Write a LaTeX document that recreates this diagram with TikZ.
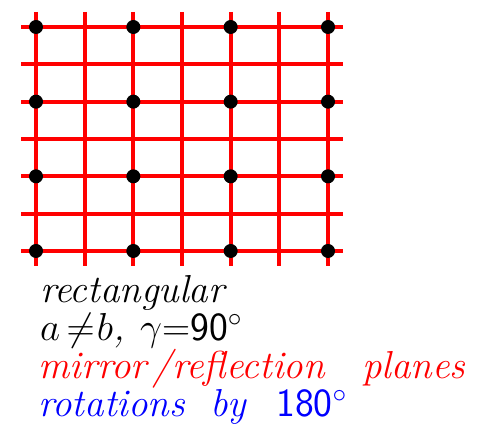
\RequirePackage{fix-cm}
\documentclass[tikz,border=0pt]{standalone}
\usepackage{amsmath,amssymb}
\usepackage{xcolor}
\usepackage{tikz}
\usetikzlibrary{positioning}

\newcommand{\bignum}[1]{\textsf{\upshape\fontsize{40}{42}\selectfont #1}}

\begin{document}
\begin{tikzpicture}[
    x=1pt, y=-1pt,
    mirror/.style={draw=red, line width=4pt},
    rotpt/.style={fill=black},
    caption/.style={anchor=base west, inner sep=0pt, font=\fontsize{39}{41}\selectfont\itshape},
]
\useasboundingbox (0,0) rectangle (498,435);

% === Mirror lines ===
\foreach \i in {0,...,6} {
    \draw[mirror] ({36+48.67*\i},12) -- ({36+48.67*\i},266);
    \draw[mirror] (21,{27+37.33*\i}) -- (343,{27+37.33*\i});
}

% === Lattice points ===
\foreach \i in {0,2,4,6} {
    \foreach \j in {0,2,4,6} {
        \fill[rotpt] ({36+48.67*\i},{27+37.33*\j}) circle (7);
    }
}

% === Caption ===
\node[caption] (kind) at (40,303) {rectangular};
\node[caption] (axes) at (40,341)
    {\makebox[100pt][l]{$a\mskip3mu{\neq}\mskip1mu b$,}$\gamma{=}$\bignum{90}$^\circ$};
\node[caption, text=red] (refl) at (38,379)
    {\makebox[114pt][l]{mirror}\makebox[20pt][c]{/}\makebox[190pt][l]{reflection}planes};
\node[caption, text=blue] (rot) at (38,417)
    {\makebox[172pt][l]{rotations}\makebox[66pt][l]{by}\bignum{180}$^\circ$};

\end{tikzpicture}
\end{document}
